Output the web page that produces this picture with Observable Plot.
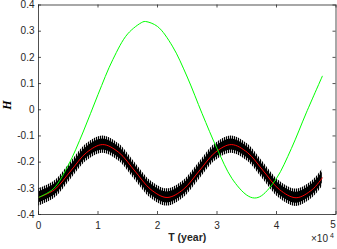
<!DOCTYPE html>
<html><head><meta charset="utf-8">
<script src="https://cdn.jsdelivr.net/npm/d3@7"></script>
<script src="https://cdn.jsdelivr.net/npm/@observablehq/plot@0.6"></script>
<style>body{margin:0;background:#fff} svg{display:block}</style>
</head><body><div id="chart"></div>
<script>
// Green series (T in years, H)
const greenT = [0, 2500, 5000, 7500, 10000, 12500, 15000, 17500, 18000, 20000, 22500, 25000, 27500, 30000, 32500, 35000, 36300, 37500, 40000, 42500, 45000, 47700];
const greenH = [-0.335, -0.302, -0.212, -0.085, 0.058, 0.192, 0.290, 0.335, 0.337, 0.318, 0.243, 0.125, -0.015, -0.148, -0.262, -0.326, -0.337, -0.328, -0.262, -0.148, -0.012, 0.128];
// Red (mean) series
const redT = [0, 2700, 5400, 8100, 10800, 13500, 16200, 18900, 21600, 24300, 27000, 29700, 32400, 35100, 37800, 40500, 43300, 46000, 47700];
const redH = [-0.335, -0.305, -0.234, -0.163, -0.133, -0.163, -0.234, -0.305, -0.335, -0.305, -0.234, -0.163, -0.133, -0.163, -0.234, -0.305, -0.336, -0.305, -0.260];
// Half-width of the black oscillation band around the red curve
const bandOuter = 0.033;
const bandInner = 0.021;
// Tick values and labels
const xTicks = [0, 10000, 20000, 30000, 40000, 50000];
const xTickLabels = ["0", "1", "2", "3", "4", "5"];
const yTicks = [0.4, 0.3, 0.2, 0.1, 0, -0.1, -0.2, -0.3, -0.4];
const yTickLabels = ["0.4", "0.3", "0.2", "0.1", "0", "-0.1", "-0.2", "-0.3", "-0.4"];

const green = greenT.map((t, i) => ({t, h: greenH[i]}));
const red = redT.map((t, i) => ({t, h: redH[i]}));

const W = 337, H = 249, mL = 38, mR = 1.5, mT = 4.5, mB = 35;
const pw = W - mL - mR, ph = H - mT - mB;
const axisColor = "#262626";
const tickLen = 3;
const xFmt = d => xTickLabels[xTicks.indexOf(d)];
const lastX = xTicks[xTicks.length - 1];

const plot = Plot.plot({
  width: W, height: H,
  marginLeft: mL, marginRight: mR, marginTop: mT, marginBottom: mB,
  style: {fontFamily: "'Liberation Sans', Arial, sans-serif", fontSize: "10px", color: axisColor, background: "#fff"},
  x: {domain: [0, 50000]},
  y: {domain: [-0.4, 0.4]},
  marks: [
    Plot.areaY(red, {x: "t", y1: d => d.h - bandOuter, y2: d => d.h + bandOuter, fill: "url(#stripes)", curve: "catmull-rom"}),
    Plot.areaY(red, {x: "t", y1: d => d.h - bandInner, y2: d => d.h + bandInner, fill: "#000", curve: "catmull-rom"}),
    Plot.line(red, {x: "t", y: "h", stroke: "#ff0000", strokeWidth: 1, curve: "catmull-rom"}),
    Plot.line(green, {x: "t", y: "h", stroke: "#00ff00", strokeWidth: 1, curve: "catmull-rom"}),
    Plot.frame({stroke: axisColor, strokeWidth: 0.8}),
    Plot.tickX(xTicks, {x: d => d, insetTop: ph - tickLen, stroke: axisColor, strokeWidth: 0.8}),
    Plot.tickX(xTicks, {x: d => d, insetBottom: ph - tickLen, stroke: axisColor, strokeWidth: 0.8}),
    Plot.tickY(yTicks, {y: d => d, insetRight: pw - tickLen, stroke: axisColor, strokeWidth: 0.8}),
    Plot.tickY(yTicks, {y: d => d, insetLeft: pw - tickLen, stroke: axisColor, strokeWidth: 0.8}),
    Plot.axisX(xTicks.slice(0, -1), {tickSize: 0, tickPadding: 7, tickFormat: xFmt, label: null, fill: axisColor}),
    Plot.axisX([lastX], {tickSize: 0, tickPadding: 6, dx: -3, tickFormat: xFmt, label: null, fill: axisColor}),
    Plot.axisY(yTicks, {tickSize: 0, tickPadding: 4, tickFormat: d => yTickLabels[yTicks.indexOf(d)], label: null, fill: axisColor}),
    Plot.text(["T (year)"], {frameAnchor: "bottom", dy: 26, fontWeight: "bold", fontSize: 10.5, fill: axisColor}),
    Plot.text(["×10"], {frameAnchor: "bottom-right", dy: 27.5, dx: -8, textAnchor: "end", fontSize: 10, fill: axisColor}),
    Plot.text(["4"], {frameAnchor: "bottom-right", dy: 23.5, dx: -2, textAnchor: "end", fontSize: 7, fill: axisColor}),
    Plot.text(["H"], {frameAnchor: "left", dx: -31, rotate: -90, fontFamily: "'Liberation Serif', 'DejaVu Serif', serif", fontStyle: "italic", fontWeight: "bold", fontSize: 12, fill: "#000"})
  ]
});
const ns = "http://www.w3.org/2000/svg";
const defs = document.createElementNS(ns, "defs");
defs.innerHTML = '<pattern id="stripes" width="2" height="4" patternUnits="userSpaceOnUse"><rect width="1.2" height="4" fill="#000"/></pattern>';
plot.insertBefore(defs, plot.firstChild);
document.getElementById("chart").append(plot);
</script>
</body></html>
